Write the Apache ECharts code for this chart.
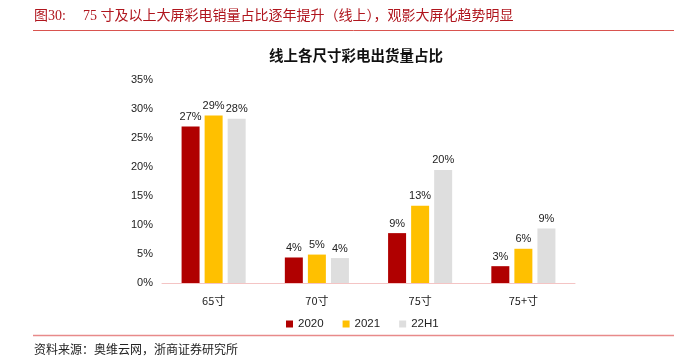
<!DOCTYPE html>
<html><head><meta charset="utf-8">
<script src="https://cdn.jsdelivr.net/npm/echarts@6/dist/echarts.min.js"></script>
<style>html,body{margin:0;padding:0;background:#fff}#c{width:683px;height:363px}</style>
</head><body><div id="c"></div>
<script>
var categories = ['65寸', '70寸', '75寸', '75+寸'];
var s2020 = [27.0, 4.4, 8.6, 2.9];
var s2021 = [28.9, 4.9, 13.3, 5.9];
var s22H1 = [28.3, 4.3, 19.5, 9.4];
var yTicks = [0, 5, 10, 15, 20, 25, 30, 35];

var chart = echarts.init(document.getElementById('c'));
var lbl = {show: true, position: 'top', distance: 4, color: '#222', fontSize: 11,
  fontFamily: 'Liberation Sans, Arial', formatter: function(p){return Math.round(p.value) + '%';}};
function mk(name, data, color){
  return {name: name, type: 'bar', data: data, barWidth: 18, barGap: '28%',
    itemStyle: {color: color}, label: lbl};
}
chart.setOption({
  animation: false,
  title: {text: '线上各尺寸彩电出货量占比', left: 351, textAlign: 'center', top: 43,
    textStyle: {fontSize: 14.5, fontWeight: 'bold', color: '#111', fontFamily: 'Noto Sans CJK SC'}},
  grid: {left: 162, right: 108, top: 80, bottom: 80},
  legend: {top: 313, left: 281, itemWidth: 7, itemHeight: 7, itemGap: 19, icon: 'rect',
    textStyle: {fontSize: 11.5, color: '#222', fontFamily: 'Liberation Sans, Arial'},
    data: ['2020', '2021', '22H1']},
  xAxis: {type: 'category', data: categories,
    axisLine: {lineStyle: {color: '#f4c4c4', width: 1}}, axisTick: {show: false},
    axisLabel: {color: '#222', fontSize: 11, margin: 12, fontFamily: 'Noto Sans CJK SC'}},
  yAxis: {type: 'value', min: yTicks[0], max: yTicks[yTicks.length-1], interval: 5,
    splitLine: {show: false}, axisLine: {show: false}, axisTick: {show: false},
    axisLabel: {color: '#222', fontSize: 11, margin: 9, fontFamily: 'Liberation Sans, Arial',
      formatter: function(v){return v + '%';}}},
  series: [mk('2020', s2020, '#b00000'), mk('2021', s2021, '#ffc000'), mk('22H1', s22H1, '#dedede')],
  graphic: [
    {type: 'text', left: 34, top: 9, style: {text: '图30:',
      fill: '#b0161e', fontSize: 14, fontFamily: 'Liberation Serif, Noto Sans CJK SC'}},
    {type: 'text', left: 83, top: 9, style: {text: '75 寸及以上大屏彩电销量占比逐年提升（线上），观影大屏化趋势明显',
      fill: '#b0161e', fontSize: 14, fontFamily: 'Liberation Serif, Noto Sans CJK SC'}},
    {type: 'line', shape: {x1: 33, y1: 30.5, x2: 674, y2: 30.5}, style: {stroke: '#d9544f', lineWidth: 1}},
    {type: 'line', shape: {x1: 33, y1: 335.5, x2: 674, y2: 335.5}, style: {stroke: '#e88a8a', lineWidth: 1.5}},
    {type: 'text', left: 34, top: 343, style: {text: '资料来源：奥维云网，浙商证券研究所',
      fill: '#222', fontSize: 12, fontFamily: 'Noto Sans CJK SC'}}
  ]
});
</script></body></html>
